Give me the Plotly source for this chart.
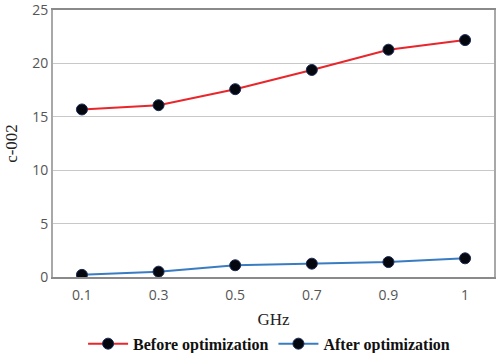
import plotly.graph_objects as go

categories = ["0.1", "0.3", "0.5", "0.7", "0.9", "1"]
before_opt = [15.7, 16.1, 17.6, 19.4, 21.3, 22.2]
after_opt = [0.2, 0.5, 1.1, 1.25, 1.4, 1.75]
y_ticks = [0, 5, 10, 15, 20, 25]

fig = go.Figure()
fig.add_trace(go.Scatter(
    x=categories, y=before_opt, mode="lines+markers", name="<b>Before optimization</b>",
    line=dict(color="#e8262b", width=2),
    marker=dict(color="#05070f", size=11, line=dict(color="#1b2a55", width=1)),
))
fig.add_trace(go.Scatter(
    x=categories, y=after_opt, mode="lines+markers", name="<b>After optimization</b>",
    line=dict(color="#3a7cc2", width=2),
    marker=dict(color="#05070f", size=11, line=dict(color="#1b2a55", width=1)),
))

fig.update_layout(
    width=500, height=353,
    margin=dict(l=53, r=6, t=10, b=76, autoexpand=False),
    paper_bgcolor="white", plot_bgcolor="white",
    showlegend=True,
    legend=dict(orientation="h", x=0.49, xanchor="center", y=-0.25, yanchor="middle",
                font=dict(family="Liberation Serif", size=16, color="#111"),
                itemwidth=40, tracegroupgap=0),
    font=dict(family="Open Sans", color="#555"),
)
fig.update_xaxes(
    type="category", showline=True, linecolor="#8a8a8a", linewidth=2, mirror=True,
    showgrid=False, ticks="", tickfont=dict(size=14, color="#555"), ticklabelstandoff=4,
    title=dict(text="GHz", font=dict(family="Liberation Serif", size=17, color="#222"), standoff=10),
)
fig.update_yaxes(
    range=[0, 25.02], tickvals=y_ticks, showline=True, linecolor="#a8a8a8", linewidth=2, mirror=True,
    showgrid=True, gridcolor="#c8c8c8", gridwidth=1, ticks="", zeroline=False,
    tickfont=dict(size=14, color="#555"), ticklabeloverflow="allow",
    title=dict(text="c-002", font=dict(family="Liberation Serif", size=17, color="#222"), standoff=10),
)

fig.write_html("out.html")
